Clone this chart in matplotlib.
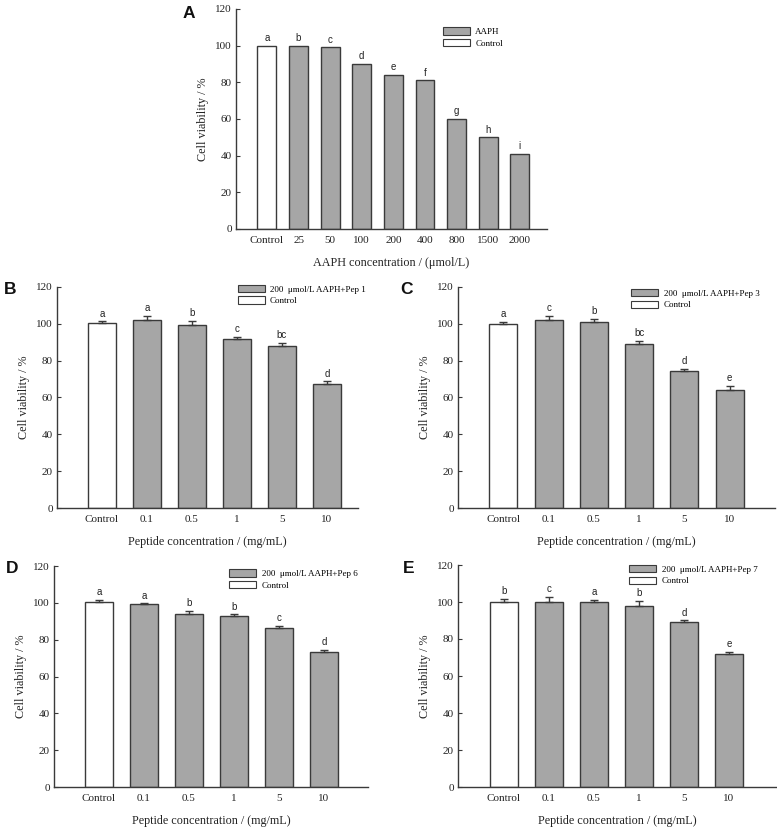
import matplotlib
matplotlib.use("Agg")
import matplotlib.pyplot as plt
from matplotlib.patches import Patch

# ---------------- data ----------------
a_labels = ["Control", "25", "50", "100", "200", "400", "800", "1500", "2000"]
a_values = [100, 100, 99, 90, 84, 81, 60, 50, 41]
a_letters = ["a", "b", "c", "d", "e", "f", "g", "h", "i"]

pep_labels = ["Control", "0.1", "0.5", "1", "5", "10"]

b_values = [100.2, 102.1, 99.1, 92.0, 88.1, 67.1]
b_errors = [1.1, 2.1, 2.5, 1.0, 1.5, 1.6]
b_letters = ["a", "a", "b", "c", "bc", "d"]

c_values = [100.0, 102.0, 101.0, 89.2, 74.2, 64.1]
c_errors = [1.2, 2.3, 1.8, 1.4, 1.4, 2.3]
c_letters = ["a", "c", "b", "bc", "d", "e"]

d_values = [100.2, 99.1, 94.0, 92.9, 86.1, 73.1]
d_errors = [1.2, 0.6, 1.5, 0.8, 1.2, 1.2]
d_letters = ["a", "a", "b", "b", "c", "d"]

e_values = [100.2, 100.2, 100.0, 98.0, 89.2, 72.0]
e_errors = [1.4, 2.5, 1.0, 2.4, 0.9, 1.1]
e_letters = ["b", "c", "a", "b", "d", "e"]

GRAY = "#a6a6a6"
EDGE = "#3a3a3a"
TXT = "#222222"
SERIF = ["Liberation Serif", "DejaVu Serif"]
SANS = ["Liberation Sans", "DejaVu Sans"]

W, H = 777, 830
fig = plt.figure(figsize=(W / 100, H / 100), dpi=100)


def add_ax(x0, x1, y0, y1):
    return fig.add_axes([x0 / W, 1 - y1 / H, (x1 - x0) / W, (y1 - y0) / H])


def draw_panel(ax, labels, values, errors, letters, xlim, xlabel, legend_label,
               leg_anchor, width, letter_off=2):
    x = list(range(len(labels)))
    colors = ["white"] + [GRAY] * (len(labels) - 1)
    ax.bar(x, values, width=width, color=colors, edgecolor=EDGE, linewidth=1.0, zorder=2)
    if errors is not None:
        ax.errorbar(x, values, yerr=[[0] * len(x), errors], fmt="none", ecolor=EDGE,
                    elinewidth=1.0, capsize=3, capthick=1.0, zorder=3)
        tops = [v + e for v, e in zip(values, errors)]
    else:
        tops = list(values)
    for xi, t, lt in zip(x, tops, letters):
        ax.annotate(lt, (xi, t), xytext=(0, letter_off), textcoords="offset points",
                    ha="center", va="bottom", fontsize=7, family=SANS, color=TXT)
    ax.set_xlim(*xlim)
    ax.set_ylim(0, 120)
    ax.set_yticks([0, 20, 40, 60, 80, 100, 120])
    ax.set_xticks(x)
    ax.set_xticklabels(labels)
    for s in ["top", "right"]:
        ax.spines[s].set_visible(False)
    for s in ["left", "bottom"]:
        ax.spines[s].set_color(EDGE)
        ax.spines[s].set_linewidth(1.0)
    ax.tick_params(axis="y", direction="in", length=3, width=0.8, colors=EDGE,
                   labelsize=8, labelcolor=TXT, pad=3)
    ax.tick_params(axis="x", length=0, labelsize=8, labelcolor=TXT, pad=5)
    for lab in ax.get_xticklabels() + ax.get_yticklabels():
        lab.set_family(SERIF)
    ax.set_ylabel("Cell viability / %", fontsize=8.7, family=SERIF, color=TXT, labelpad=4.8)
    ax.set_xlabel(xlabel, fontsize=8.7, family=SERIF, color=TXT, labelpad=8.8)
    handles = [Patch(facecolor=GRAY, edgecolor=EDGE, linewidth=0.8, label=legend_label),
               Patch(facecolor="white", edgecolor=EDGE, linewidth=0.8, label="Control")]
    ax.legend(handles=handles, loc="upper left", bbox_to_anchor=leg_anchor, frameon=False,
              prop={"family": SERIF, "size": 6.5}, borderpad=0, borderaxespad=0,
              handlelength=3.0, handleheight=0.9, handletextpad=0.6, labelspacing=0.3)


axA = add_ax(236, 547, 9, 229)
draw_panel(axA, a_labels, a_values, None, a_letters, (-0.98, 8.86),
           "AAPH concentration / (μmol/L)", "AAPH", (0.665, 0.917), 0.6)

axB = add_ax(57, 358, 287, 508)
draw_panel(axB, pep_labels, b_values, b_errors, b_letters, (-1.0, 5.69),
           "Peptide concentration / (mg/mL)", "200  μmol/L AAPH+Pep 1", (0.600, 1.01), 0.62)

axC = add_ax(458, 775, 287, 508)
draw_panel(axC, pep_labels, c_values, c_errors, c_letters, (-1.0, 6.0),
           "Peptide concentration / (mg/mL)", "200  μmol/L AAPH+Pep 3", (0.547, 0.991), 0.62)

axD = add_ax(54, 368, 566, 787)
draw_panel(axD, pep_labels, d_values, d_errors, d_letters, (-1.0, 5.98),
           "Peptide concentration / (mg/mL)", "200  μmol/L AAPH+Pep 6", (0.558, 0.986), 0.62)

axE = add_ax(458, 777, 565, 787)
draw_panel(axE, pep_labels, e_values, e_errors, e_letters, (-1.02, 6.07),
           "Peptide concentration / (mg/mL)", "200  μmol/L AAPH+Pep 7", (0.537, 1.0), 0.62)

for txt, px, py in [("A", 183, 13), ("B", 4, 289), ("C", 400, 289), ("D", 6, 568), ("E", 403, 568)]:
    fig.text(px / W, 1 - py / H, txt, fontsize=12.5, fontweight="bold", family=SANS,
             ha="left", va="center", color="#111111")

fig.savefig("out.png", dpi=100, facecolor="white")
